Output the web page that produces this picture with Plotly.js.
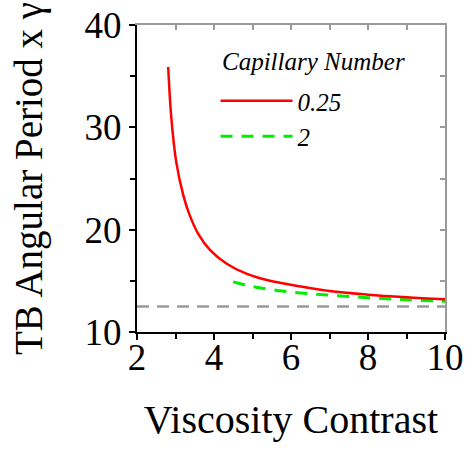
<!DOCTYPE html>
<html>
<head>
<meta charset="utf-8">
<script src="https://cdn.plot.ly/plotly-3.0.1.min.js"></script>
<style>html,body{margin:0;padding:0;background:#fff;}#chart{width:471px;height:457px;}</style>
</head>
<body>
<div id="chart"></div>
<script>
// Capillary number 0.25 (red, solid)
const ca025_x = [2.81, 2.89, 3.02, 3.20, 3.37, 3.59, 3.90, 4.32, 4.84, 5.45, 6.10, 7.0, 8.0, 9.0, 10.0];
const ca025_y = [35.9, 31.0, 26.6, 23.4, 21.4, 19.6, 18.0, 16.7, 15.7, 15.0, 14.55, 14.0, 13.65, 13.4, 13.2];
// Capillary number 2 (green, dashed)
const ca2_x = [4.5, 5.0, 6.0, 7.0, 8.0, 9.0, 10.0];
const ca2_y = [14.9, 14.45, 13.9, 13.6, 13.35, 13.15, 13.0];
// Asymptote (grey dashed)
const asym_x = [2, 10];
const asym_y = [12.5, 12.5];

const legendTitle = 'Capillary Number';
const serif = 'Liberation Serif';

const traces = [
  {x: asym_x, y: asym_y, xaxis: 'x2', yaxis: 'y2', mode: 'lines', line: {color: '#9a9a9a', width: 2.5, dash: '12px,8px'}, showlegend: false, hoverinfo: 'skip'},
  {x: ca2_x, y: ca2_y, mode: 'lines', name: '2', line: {color: '#00ee00', width: 3, dash: '12px,9px', shape: 'spline'}},
  {x: ca025_x, y: ca025_y, mode: 'lines', name: '0.25', line: {color: '#ff0000', width: 2.5, shape: 'spline'}}
];

const layout = {
  width: 471, height: 457,
  margin: {l: 137, r: 26, t: 25, b: 125},
  paper_bgcolor: '#fff', plot_bgcolor: '#fff',
  font: {family: serif, color: '#000'},
  showlegend: true,
  legend: {
    x: 0.255, y: 0.827, xanchor: 'left', yanchor: 'top',
    bgcolor: 'rgba(0,0,0,0)', borderwidth: 0,
    traceorder: 'reversed',
    itemwidth: 72,
    font: {family: serif, size: 25, color: '#000', style: 'italic'},
    tracegroupgap: 0
  },
  annotations: [{
    text: legendTitle, xref: 'paper', yref: 'paper', x: 0.27, y: 0.88,
    xanchor: 'left', yanchor: 'middle', showarrow: false,
    font: {family: serif, size: 25, color: '#000', style: 'italic'}
  }],
  xaxis: {
    range: [2, 10], dtick: 2, tick0: 2,
    showgrid: false, zeroline: false,
    showline: true, linecolor: '#000', linewidth: 2,
    ticks: 'outside', ticklen: 6, tickwidth: 2, tickcolor: '#000',
    minor: {dtick: 1, ticks: 'outside', ticklen: 5, tickwidth: 2, tickcolor: '#000', showgrid: false},
    tickfont: {family: serif, size: 37, color: '#000'},
    ticklabelstandoff: -14,
    title: {text: 'Viscosity Contrast', font: {family: serif, size: 40, color: '#000'}, standoff: 28}
  },
  yaxis: {
    range: [10, 40], dtick: 10, tick0: 10,
    showgrid: false, zeroline: false,
    showline: true, linecolor: '#000', linewidth: 2,
    ticks: 'outside', ticklen: 6, tickwidth: 2, tickcolor: '#000',
    minor: {dtick: 5, ticks: 'outside', ticklen: 5, tickwidth: 2, tickcolor: '#000', showgrid: false},
    tickfont: {family: serif, size: 37, color: '#000'},
    title: {text: 'TB Angular Period x γ', font: {family: serif, size: 39, color: '#000'}, standoff: 30}
  },
  xaxis2: {
    overlaying: 'x', side: 'top', anchor: 'y2', range: [2, 10], dtick: 1,
    showgrid: false, zeroline: false, showticklabels: false,
    showline: true, linecolor: '#9a9a9a', linewidth: 2,
    ticks: 'inside', ticklen: 5, tickwidth: 2, tickcolor: '#9a9a9a'
  },
  yaxis2: {
    overlaying: 'y', side: 'right', anchor: 'x2', range: [10, 40], dtick: 5,
    showgrid: false, zeroline: false, showticklabels: false,
    showline: true, linecolor: '#9a9a9a', linewidth: 2,
    ticks: 'inside', ticklen: 5, tickwidth: 2, tickcolor: '#9a9a9a'
  }
};

Plotly.newPlot('chart', traces, layout, {staticPlot: true, displayModeBar: false});
</script>
</body>
</html>
